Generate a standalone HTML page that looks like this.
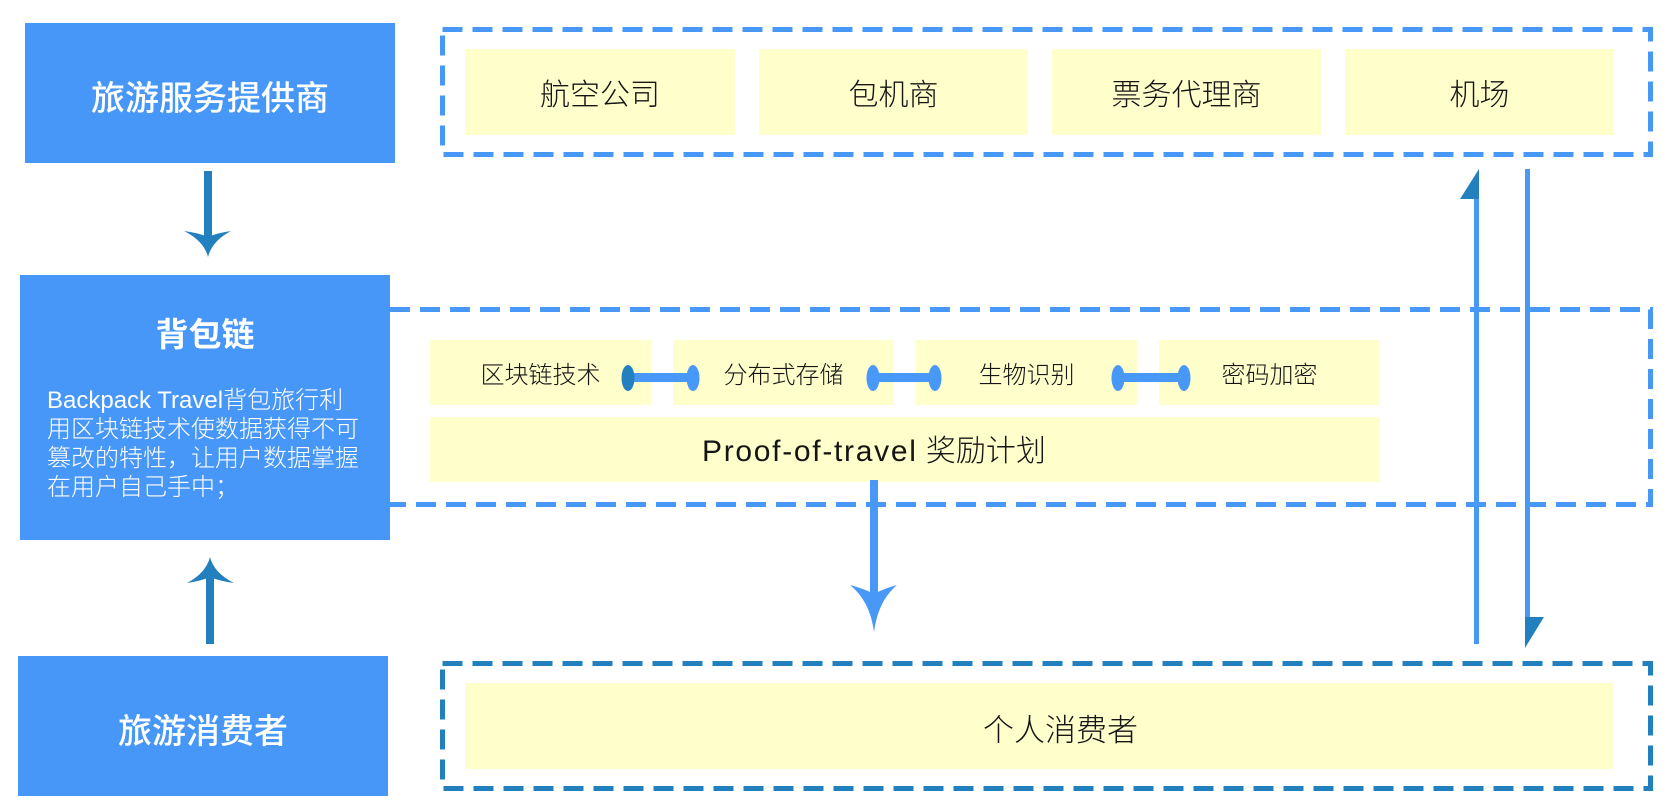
<!DOCTYPE html>
<html>
<head>
<meta charset="utf-8">
<style>
  html,body{margin:0;padding:0;background:#fff;}
  #wrap{position:relative;width:1668px;height:800px;overflow:hidden;background:#fff;}
  svg{position:absolute;left:0;top:0;}
  .t{position:absolute;white-space:nowrap;font-family:"Liberation Sans","Noto Sans CJK SC",sans-serif;}
  .yc{position:absolute;display:flex;align-items:center;justify-content:center;color:#151515;
      font-family:"Liberation Sans","Noto Sans CJK SC",sans-serif;white-space:nowrap;line-height:1;font-weight:300;}
  .w{color:#fff;}
</style>
</head>
<body>
<div id="wrap">
<svg width="1668" height="800" viewBox="0 0 1668 800">
  <!-- dashed containers -->
  <rect x="442.5" y="29.5" width="1208" height="125" fill="none" stroke="#4899f7" stroke-width="5" stroke-dasharray="20 10"/>
  <rect x="300" y="309.5" width="1350.5" height="195" fill="none" stroke="#4899f7" stroke-width="5" stroke-dasharray="20 10"/>
  <rect x="442.5" y="663.5" width="1208" height="125" fill="none" stroke="#2380be" stroke-width="5" stroke-dasharray="20 10"/>

  <!-- yellow boxes top -->
  <rect x="465" y="49" width="270" height="86" fill="#ffffcc"/>
  <rect x="759" y="49" width="269" height="86" fill="#ffffcc"/>
  <rect x="1052" y="49" width="269" height="86" fill="#ffffcc"/>
  <rect x="1345" y="49" width="269" height="86" fill="#ffffcc"/>
  <!-- yellow boxes middle -->
  <rect x="430" y="340" width="221" height="65" fill="#ffffcc"/>
  <rect x="673" y="340" width="221" height="65" fill="#ffffcc"/>
  <rect x="916" y="340" width="221" height="65" fill="#ffffcc"/>
  <rect x="1159" y="340" width="221" height="65" fill="#ffffcc"/>
  <rect x="430" y="417" width="950" height="65" fill="#ffffcc"/>
  <!-- yellow bottom -->
  <rect x="465" y="683" width="1148" height="86" fill="#ffffcc"/>

  <!-- blue boxes -->
  <rect x="25" y="23" width="370" height="140" fill="#4797f8"/>
  <rect x="20" y="275" width="370" height="265" fill="#4797f8"/>
  <rect x="18" y="656" width="370" height="140" fill="#4797f8"/>

  <!-- left down arrow -->
  <rect x="204" y="171" width="8" height="68" fill="#2380be"/>
  <path d="M208,257 Q204,241 184,231 Q199,233 208,237 Q217,233 231,231 Q212,241 208,257 Z" fill="#2380be"/>
  <!-- left up arrow -->
  <rect x="206" y="575" width="8" height="69" fill="#2380be"/>
  <path d="M210,557 Q206,573 187,583 Q201,581 210,577 Q219,581 234,583 Q214,573 210,557 Z" fill="#2380be"/>

  <!-- middle down arrow -->
  <rect x="870" y="480" width="8" height="115" fill="#4899f7"/>
  <path d="M874,632 Q870,601 850,585 Q865,589 874,594 Q883,589 897,585 Q878,601 874,632 Z" fill="#4899f7"/>

  <!-- connectors -->
  <rect x="628" y="373" width="65" height="9" fill="#4899f7"/>
  <ellipse cx="628" cy="378" rx="6.5" ry="13" fill="#2380be"/>
  <ellipse cx="693" cy="378" rx="6.5" ry="13" fill="#4899f7"/>

  <rect x="873" y="373" width="62" height="9" fill="#4899f7"/>
  <ellipse cx="873" cy="378" rx="6.5" ry="13" fill="#4899f7"/>
  <ellipse cx="935" cy="378" rx="6.5" ry="13" fill="#4899f7"/>

  <rect x="1118" y="373" width="66" height="9" fill="#4899f7"/>
  <ellipse cx="1118" cy="378" rx="6.5" ry="13" fill="#4899f7"/>
  <ellipse cx="1184" cy="378" rx="6.5" ry="13" fill="#4899f7"/>

  <!-- right vertical arrows -->
  <rect x="1474" y="199" width="5" height="445" fill="#4899f7"/>
  <polygon points="1479,169 1460,199 1479,199" fill="#2380be"/>
  <rect x="1525" y="169" width="5" height="448" fill="#4899f7"/>
  <polygon points="1525,617 1544,617 1525,648" fill="#2380be"/>
</svg>

<!-- blue box texts -->
<div class="t w" style="left:25px;width:370px;top:82px;text-align:center;font-size:34px;line-height:34px;font-weight:500;">旅游服务提供商</div>
<div class="t w" style="left:20px;width:370px;top:318px;text-align:center;font-size:33px;line-height:33px;font-weight:700;">背包链</div>
<div class="t w" style="left:47px;top:386px;font-size:24px;line-height:29px;font-weight:300;">Backpack Travel背包旅行利<br>用区块链技术使数据获得不可<br>篡改的特性，让用户数据掌握<br>在用户自己手中；</div>
<div class="t w" style="left:18px;width:370px;top:715px;text-align:center;font-size:34px;line-height:34px;font-weight:500;">旅游消费者</div>

<!-- top yellow texts -->
<div class="yc" style="left:465px;top:53px;width:270px;height:86px;font-size:30px;">航空公司</div>
<div class="yc" style="left:759px;top:53px;width:269px;height:86px;font-size:30px;">包机商</div>
<div class="yc" style="left:1052px;top:53px;width:269px;height:86px;font-size:30px;">票务代理商</div>
<div class="yc" style="left:1345px;top:53px;width:269px;height:86px;font-size:30px;">机场</div>

<!-- middle yellow texts -->
<div class="yc" style="left:430px;top:343px;width:221px;height:65px;font-size:24px;">区块链技术</div>
<div class="yc" style="left:673px;top:343px;width:221px;height:65px;font-size:24px;">分布式存储</div>
<div class="yc" style="left:916px;top:343px;width:221px;height:65px;font-size:24px;">生物识别</div>
<div class="yc" style="left:1159px;top:343px;width:221px;height:65px;font-size:24px;">密码加密</div>
<div class="yc" style="left:702px;top:419px;height:65px;justify-content:flex-start;font-size:30px;"><span style="letter-spacing:1.7px;">Proof-of-travel</span>&nbsp;奖励计划</div>

<!-- bottom yellow text -->
<div class="yc" style="left:983px;top:687px;height:86px;justify-content:flex-start;font-size:31px;">个人消费者</div>
</div>
</body>
</html>
